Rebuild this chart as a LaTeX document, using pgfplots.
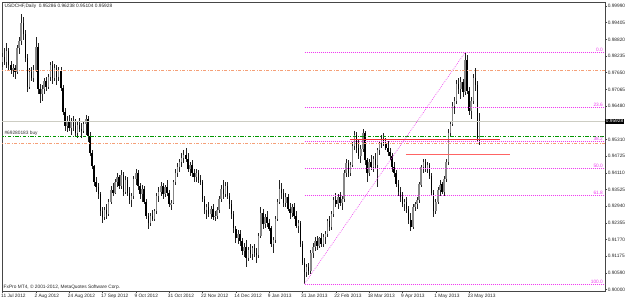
\documentclass[border=0pt]{standalone}
\usepackage{fontspec}
\setmainfont{Liberation Sans}
\usepackage{pgfplots}
\usepackage{pgfplotstable}
\pgfplotsset{compat=1.18}
\definecolor{salmonc}{RGB}{245,160,120}
\definecolor{greenc}{RGB}{0,150,0}
\definecolor{fiboc}{RGB}{240,60,240}
\definecolor{redA}{RGB}{240,50,50}
\definecolor{redB}{RGB}{255,100,100}
\definecolor{bidc}{RGB}{205,205,195}
\definecolor{bullc}{RGB}{135,135,135}
\definecolor{bearc}{RGB}{0,0,0}
\definecolor{wickc}{RGB}{35,35,35}
\definecolor{framec}{RGB}{70,70,70}
\newcommand\mt{\fontsize{4.8bp}{5.6bp}\selectfont}

\pgfplotstableread{
i o h l c
0 0.9800 0.9835 0.9785 0.9818
1 0.9818 0.9850 0.9790 0.9800
2 0.9800 0.9868 0.9780 0.9840
3 0.9840 0.9852 0.9775 0.9790
4 0.9790 0.9805 0.9760 0.9772
5 0.9772 0.9795 0.9750 0.9780
6 0.9780 0.9790 0.9742 0.9765
7 0.9765 0.9860 0.9760 0.9850
8 0.9850 0.9890 0.9830 0.9875
9 0.9875 0.9972 0.9860 0.9940
10 0.9940 0.9960 0.9880 0.9900
11 0.9900 0.9915 0.9800 0.9815
12 0.9815 0.9830 0.9695 0.9715
13 0.9715 0.9780 0.9705 0.9765
14 0.9765 0.9785 0.9735 0.9745
15 0.9745 0.9790 0.9730 0.9775
16 0.9775 0.9890 0.9765 0.9855
17 0.9855 0.9870 0.9690 0.9705
18 0.9705 0.9725 0.9658 0.9690
19 0.9690 0.9720 0.9665 0.9705
20 0.9705 0.9745 0.9690 0.9735
21 0.9735 0.9750 0.9700 0.9715
22 0.9715 0.9760 0.9705 0.9750
23 0.9750 0.9800 0.9735 0.9790
24 0.9790 0.9805 0.9725 0.9745
25 0.9745 0.9795 0.9735 0.9780
26 0.9780 0.9790 0.9720 0.9750
27 0.9750 0.9785 0.9735 0.9770
28 0.9770 0.9785 0.9700 0.9710
29 0.9710 0.9720 0.9615 0.9625
30 0.9625 0.9640 0.9560 0.9575
31 0.9575 0.9610 0.9555 0.9595
32 0.9595 0.9615 0.9560 0.9570
33 0.9570 0.9605 0.9545 0.9590
34 0.9590 0.9612 0.9560 0.9575
35 0.9575 0.9600 0.9540 0.9550
36 0.9550 0.9590 0.9535 0.9580
37 0.9580 0.9605 0.9555 0.9565
38 0.9565 0.9585 0.9535 0.9560
39 0.9560 0.9595 0.9550 0.9585
40 0.9585 0.9615 0.9545 0.9600
41 0.9600 0.9610 0.9520 0.9540
42 0.9540 0.9555 0.9470 0.9480
43 0.9480 0.9490 0.9425 0.9435
44 0.9435 0.9440 0.9365 0.9380
45 0.9380 0.9395 0.9345 0.9360
46 0.9360 0.9375 0.9320 0.9335
47 0.9335 0.9345 0.9260 0.9275
48 0.9275 0.9290 0.9235 0.9255
49 0.9255 0.9290 0.9245 0.9280
50 0.9280 0.9300 0.9250 0.9265
51 0.9265 0.9320 0.9260 0.9310
52 0.9310 0.9365 0.9300 0.9350
53 0.9350 0.9375 0.9330 0.9340
54 0.9340 0.9390 0.9335 0.9380
55 0.9380 0.9410 0.9360 0.9395
56 0.9395 0.9405 0.9355 0.9365
57 0.9365 0.9420 0.9355 0.9405
58 0.9405 0.9415 0.9330 0.9345
59 0.9345 0.9400 0.9335 0.9385
60 0.9385 0.9395 0.9330 0.9340
61 0.9340 0.9360 0.9300 0.9315
62 0.9315 0.9340 0.9290 0.9330
63 0.9330 0.9400 0.9320 0.9390
64 0.9390 0.9425 0.9370 0.9410
65 0.9410 0.9420 0.9350 0.9365
66 0.9365 0.9375 0.9320 0.9335
67 0.9335 0.9370 0.9310 0.9355
68 0.9355 0.9365 0.9300 0.9310
69 0.9310 0.9320 0.9250 0.9260
70 0.9260 0.9270 0.9215 0.9235
71 0.9235 0.9270 0.9225 0.9260
72 0.9260 0.9280 0.9240 0.9250
73 0.9250 0.9285 0.9240 0.9275
74 0.9275 0.9340 0.9265 0.9330
75 0.9330 0.9360 0.9310 0.9345
76 0.9345 0.9380 0.9330 0.9365
77 0.9365 0.9375 0.9320 0.9335
78 0.9335 0.9370 0.9325 0.9360
79 0.9360 0.9385 0.9330 0.9340
80 0.9340 0.9350 0.9290 0.9300
81 0.9300 0.9315 0.9280 0.9305
82 0.9305 0.9385 0.9300 0.9380
83 0.9380 0.9425 0.9370 0.9410
84 0.9410 0.9445 0.9395 0.9430
85 0.9430 0.9460 0.9415 0.9450
86 0.9450 0.9480 0.9430 0.9465
87 0.9465 0.9490 0.9445 0.9475
88 0.9475 0.9500 0.9450 0.9460
89 0.9460 0.9480 0.9415 0.9425
90 0.9425 0.9450 0.9400 0.9440
91 0.9440 0.9455 0.9395 0.9410
92 0.9410 0.9425 0.9380 0.9395
93 0.9395 0.9425 0.9380 0.9410
94 0.9410 0.9420 0.9375 0.9385
95 0.9385 0.9405 0.9370 0.9380
96 0.9380 0.9385 0.9310 0.9320
97 0.9320 0.9330 0.9265 0.9280
98 0.9280 0.9300 0.9250 0.9290
99 0.9290 0.9310 0.9255 0.9265
100 0.9265 0.9295 0.9250 0.9285
101 0.9285 0.9300 0.9245 0.9255
102 0.9255 0.9275 0.9240 0.9260
103 0.9260 0.9290 0.9250 0.9280
104 0.9280 0.9330 0.9270 0.9320
105 0.9320 0.9370 0.9310 0.9355
106 0.9355 0.9385 0.9320 0.9335
107 0.9335 0.9380 0.9325 0.9365
108 0.9365 0.9380 0.9320 0.9330
109 0.9330 0.9340 0.9285 0.9300
110 0.9300 0.9315 0.9250 0.9265
111 0.9265 0.9275 0.9200 0.9215
112 0.9215 0.9225 0.9165 0.9180
113 0.9180 0.9210 0.9160 0.9195
114 0.9195 0.9210 0.9155 0.9170
115 0.9170 0.9180 0.9120 0.9135
116 0.9135 0.9165 0.9115 0.9150
117 0.9150 0.9175 0.9080 0.9110
118 0.9110 0.9150 0.9100 0.9140
119 0.9140 0.9160 0.9110 0.9125
120 0.9125 0.9155 0.9105 0.9145
121 0.9145 0.9160 0.9115 0.9130
122 0.9130 0.9145 0.9095 0.9120
123 0.9120 0.9200 0.9110 0.9190
124 0.9190 0.9290 0.9180 0.9270
125 0.9270 0.9285 0.9215 0.9230
126 0.9230 0.9265 0.9215 0.9255
127 0.9255 0.9275 0.9220 0.9235
128 0.9235 0.9250 0.9205 0.9215
129 0.9215 0.9225 0.9150 0.9160
130 0.9160 0.9185 0.9130 0.9175
131 0.9175 0.9260 0.9165 0.9250
132 0.9250 0.9320 0.9240 0.9310
133 0.9310 0.9385 0.9300 0.9355
134 0.9355 0.9375 0.9320 0.9340
135 0.9340 0.9355 0.9290 0.9305
136 0.9305 0.9340 0.9290 0.9325
137 0.9325 0.9335 0.9275 0.9285
138 0.9285 0.9305 0.9250 0.9270
139 0.9270 0.9300 0.9255 0.9290
140 0.9290 0.9305 0.9250 0.9260
141 0.9260 0.9275 0.9215 0.9225
142 0.9225 0.9245 0.9200 0.9235
143 0.9235 0.9240 0.9150 0.9160
144 0.9160 0.9170 0.9085 0.9095
145 0.9095 0.9110 0.9020 0.9060
146 0.9060 0.9090 0.9045 0.9080
147 0.9080 0.9095 0.9050 0.9065
148 0.9065 0.9140 0.9055 0.9130
149 0.9130 0.9165 0.9110 0.9150
150 0.9150 0.9185 0.9135 0.9170
151 0.9170 0.9190 0.9140 0.9155
152 0.9155 0.9185 0.9145 0.9180
153 0.9180 0.9200 0.9150 0.9160
154 0.9160 0.9195 0.9150 0.9185
155 0.9185 0.9205 0.9160 0.9195
156 0.9195 0.9250 0.9185 0.9240
157 0.9240 0.9260 0.9205 0.9220
158 0.9220 0.9275 0.9210 0.9265
159 0.9265 0.9325 0.9255 0.9315
160 0.9315 0.9340 0.9290 0.9300
161 0.9300 0.9335 0.9285 0.9325
162 0.9325 0.9345 0.9295 0.9305
163 0.9305 0.9330 0.9280 0.9320
164 0.9320 0.9420 0.9310 0.9410
165 0.9410 0.9460 0.9395 0.9445
166 0.9445 0.9455 0.9395 0.9410
167 0.9410 0.9450 0.9400 0.9440
168 0.9440 0.9520 0.9430 0.9505
169 0.9505 0.9560 0.9490 0.9545
170 0.9545 0.9555 0.9480 0.9500
171 0.9500 0.9530 0.9460 0.9470
172 0.9470 0.9510 0.9445 0.9495
173 0.9495 0.9565 0.9485 0.9550
174 0.9550 0.9560 0.9440 0.9455
175 0.9455 0.9465 0.9380 0.9410
176 0.9410 0.9460 0.9400 0.9450
177 0.9450 0.9475 0.9420 0.9430
178 0.9430 0.9470 0.9415 0.9460
179 0.9460 0.9480 0.9425 0.9440
180 0.9440 0.9500 0.9360 0.9490
181 0.9490 0.9525 0.9475 0.9515
182 0.9515 0.9545 0.9500 0.9530
183 0.9530 0.9550 0.9505 0.9515
184 0.9515 0.9535 0.9490 0.9500
185 0.9500 0.9525 0.9470 0.9485
186 0.9485 0.9500 0.9455 0.9470
187 0.9470 0.9480 0.9415 0.9430
188 0.9430 0.9450 0.9395 0.9410
189 0.9410 0.9420 0.9360 0.9370
190 0.9370 0.9385 0.9330 0.9345
191 0.9345 0.9360 0.9310 0.9325
192 0.9325 0.9345 0.9290 0.9300
193 0.9300 0.9320 0.9275 0.9310
194 0.9310 0.9325 0.9270 0.9285
195 0.9285 0.9295 0.9230 0.9245
196 0.9245 0.9270 0.9205 0.9220
197 0.9220 0.9300 0.9215 0.9290
198 0.9290 0.9310 0.9275 0.9300
199 0.9300 0.9325 0.9285 0.9315
200 0.9315 0.9380 0.9305 0.9370
201 0.9370 0.9440 0.9360 0.9430
202 0.9430 0.9460 0.9410 0.9450
203 0.9450 0.9460 0.9415 0.9425
204 0.9425 0.9450 0.9410 0.9440
205 0.9440 0.9445 0.9390 0.9400
206 0.9400 0.9410 0.9330 0.9340
207 0.9340 0.9350 0.9255 0.9275
208 0.9275 0.9320 0.9265 0.9310
209 0.9310 0.9360 0.9300 0.9350
210 0.9350 0.9385 0.9330 0.9370
211 0.9370 0.9380 0.9335 0.9345
212 0.9345 0.9400 0.9330 0.9390
213 0.9390 0.9460 0.9380 0.9450
214 0.9450 0.9565 0.9440 0.9550
215 0.9550 0.9595 0.9540 0.9585
216 0.9585 0.9660 0.9575 0.9645
217 0.9645 0.9680 0.9620 0.9665
218 0.9665 0.9740 0.9655 0.9725
219 0.9725 0.9745 0.9690 0.9705
220 0.9705 0.9750 0.9670 0.9730
221 0.9730 0.9740 0.9680 0.9695
222 0.9695 0.9835 0.9685 0.9810
223 0.9810 0.9825 0.9690 0.9700
224 0.9700 0.9715 0.9615 0.9630
225 0.9630 0.9680 0.9600 0.9665
226 0.9665 0.9760 0.9655 0.9745
227 0.9745 0.9780 0.9700 0.9720
228 0.9720 0.9735 0.9520 0.9535
229 0.95286 0.96238 0.95104 0.95928
}\candles

\begin{document}
\begin{tikzpicture}
\fill[white] (0,0) rectangle (625bp,300bp);
\useasboundingbox (0,0) rectangle (625bp,300bp);
\begin{axis}[
  at={(2bp,9bp)}, anchor=south west,
  width=603bp, height=289bp, scale only axis,
  xmin=-0.24, xmax=289.25, ymin=0.89947, ymax=1.00131,
  clip mode=individual,
  axis line style={framec, line width=0.6bp},
  tick align=outside, major tick length=2bp,
  xtick pos=left, ytick pos=right,
  xticklabel pos=left, yticklabel pos=right,
  tick style={framec, line width=0.5bp},
  xtick={0,16,...,224},
  xticklabels={11 Jul 2012,2 Aug 2012,24 Aug 2012,17 Sep 2012,9 Oct 2012,31 Oct 2012,22 Nov 2012,14 Dec 2012,9 Jan 2013,31 Jan 2013,22 Feb 2013,18 Mar 2013,9 Apr 2013,1 May 2013,23 May 2013},
  xticklabel style={font=\mt, anchor=north west, inner sep=0pt, xshift=-1.5bp, yshift=-0.6bp, text=black!85},
  ytick={0.900000,0.905876,0.911753,0.917629,0.923506,0.929382,0.935259,0.941135,0.947012,0.952888,0.958765,0.964641,0.970518,0.976394,0.982271,0.988147,0.994024,0.999900},
  yticklabels={0.90000,0.90590,0.91175,0.91770,0.92355,0.92940,0.93525,0.94110,0.94725,0.95310,{},0.96480,0.97065,0.97650,0.98235,0.98820,0.99405,0.99990},
  yticklabel style={font=\mt, anchor=west, inner sep=0pt, xshift=0.6bp, text=black!85},
]
% wicks
\addplot[draw=none, mark=none, forget plot,
  error bars/.cd, y dir=both, y explicit, error mark=none,
  error bar style={draw=wickc, line width=0.6bp, solid}]
  table[x=i, y expr=(\thisrow{h}+\thisrow{l})/2, y error expr=(\thisrow{h}-\thisrow{l})/2] {\candles};
% bull bodies
\addplot[draw=none, mark=none, forget plot, restrict y to domain=0.8:1.1,
  error bars/.cd, y dir=both, y explicit, error mark=none,
  error bar style={draw=bullc, line width=1.5bp, solid}]
  table[x=i, y expr={ifthenelse(\thisrow{c}>=\thisrow{o},(\thisrow{o}+\thisrow{c})/2,10)}, y error expr=abs(\thisrow{c}-\thisrow{o})/2] {\candles};
% bear bodies
\addplot[draw=none, mark=none, forget plot, restrict y to domain=0.8:1.1,
  error bars/.cd, y dir=both, y explicit, error mark=none,
  error bar style={draw=bearc, line width=1.5bp, solid}]
  table[x=i, y expr={ifthenelse(\thisrow{c}<\thisrow{o},(\thisrow{o}+\thisrow{c})/2,10)}, y error expr=abs(\thisrow{c}-\thisrow{o})/2] {\candles};

% bid line
\addplot[bidc, line width=0.6bp, forget plot] coordinates {(-1,0.95928) (300,0.95928)};
% order / stop lines
\addplot[salmonc, line width=0.8bp, dash pattern=on 3bp off 1.5bp on 1bp off 1.5bp, forget plot] coordinates {(-1,0.9773) (300,0.9773)};
\addplot[salmonc, line width=0.8bp, dash pattern=on 3bp off 1.5bp on 1bp off 1.5bp, forget plot] coordinates {(-1,0.9516) (300,0.9516)};
\addplot[greenc, line width=0.9bp, dash pattern=on 3.5bp off 1.5bp on 1bp off 1.5bp, forget plot] coordinates {(-1,0.9541) (300,0.9541)};
% red lines
\addplot[redA, line width=0.8bp, forget plot] coordinates {(166.8,0.9530) (238.8,0.9530)};
\addplot[redB, line width=0.8bp, forget plot] coordinates {(193.7,0.9477) (243.6,0.9477)};
% fibo
\addplot[fiboc, line width=0.6bp, dash pattern=on 0.8bp off 1.2bp, forget plot] coordinates {(145,0.9020) (222,0.9835)};
\addplot[fiboc, line width=0.6bp, dash pattern=on 0.8bp off 1.2bp, forget plot] coordinates {(145,0.98350) (300,0.98350)};
\addplot[fiboc, line width=0.6bp, dash pattern=on 0.8bp off 1.2bp, forget plot] coordinates {(145,0.96427) (300,0.96427)};
\addplot[fiboc, line width=0.6bp, dash pattern=on 0.8bp off 1.2bp, forget plot] coordinates {(145,0.95237) (300,0.95237)};
\addplot[fiboc, line width=0.6bp, dash pattern=on 0.8bp off 1.2bp, forget plot] coordinates {(145,0.94275) (300,0.94275)};
\addplot[fiboc, line width=0.6bp, dash pattern=on 0.8bp off 1.2bp, forget plot] coordinates {(145,0.93313) (300,0.93313)};
\addplot[fiboc, line width=0.6bp, dash pattern=on 0.8bp off 1.2bp, forget plot] coordinates {(145,0.90200) (300,0.90200)};

\begin{scope}[every node/.style={font=\mt, text=fiboc, inner sep=0.4bp, anchor=south east}]
\node at (axis cs:288.5,0.98350) {0.0};
\node at (axis cs:288.5,0.96427) {23.6};
\node at (axis cs:288.5,0.95237) {38.2};
\node at (axis cs:288.5,0.94275) {50.0};
\node at (axis cs:288.5,0.93313) {61.8};
\node at (axis cs:288.5,0.90200) {100.0};
\end{scope}

\node[font=\mt, anchor=south west, inner sep=0.4bp, text=black!80] at (axis cs:0.7,0.9541) {\#69280183 buy};
\node[font=\mt, anchor=north west, inner sep=0pt, text=black!85] at (rel axis cs:0,1) [xshift=2.5bp, yshift=-2bp] {USDCHF,Daily\ \ 0.95286 0.96238 0.95104 0.95928};
\node[font=\mt, anchor=south west, inner sep=0pt, text=black!85] at (rel axis cs:0,0) [xshift=1.5bp, yshift=1.5bp] {FxPro MT4, \textcopyright\ 2001-2012, MetaQuotes Software Corp.};
\node[font=\mt, anchor=west, fill=black, text=white, inner sep=0.7bp] at (axis cs:289.25,0.95928) {0.95928};
\end{axis}
\end{tikzpicture}
\end{document}
